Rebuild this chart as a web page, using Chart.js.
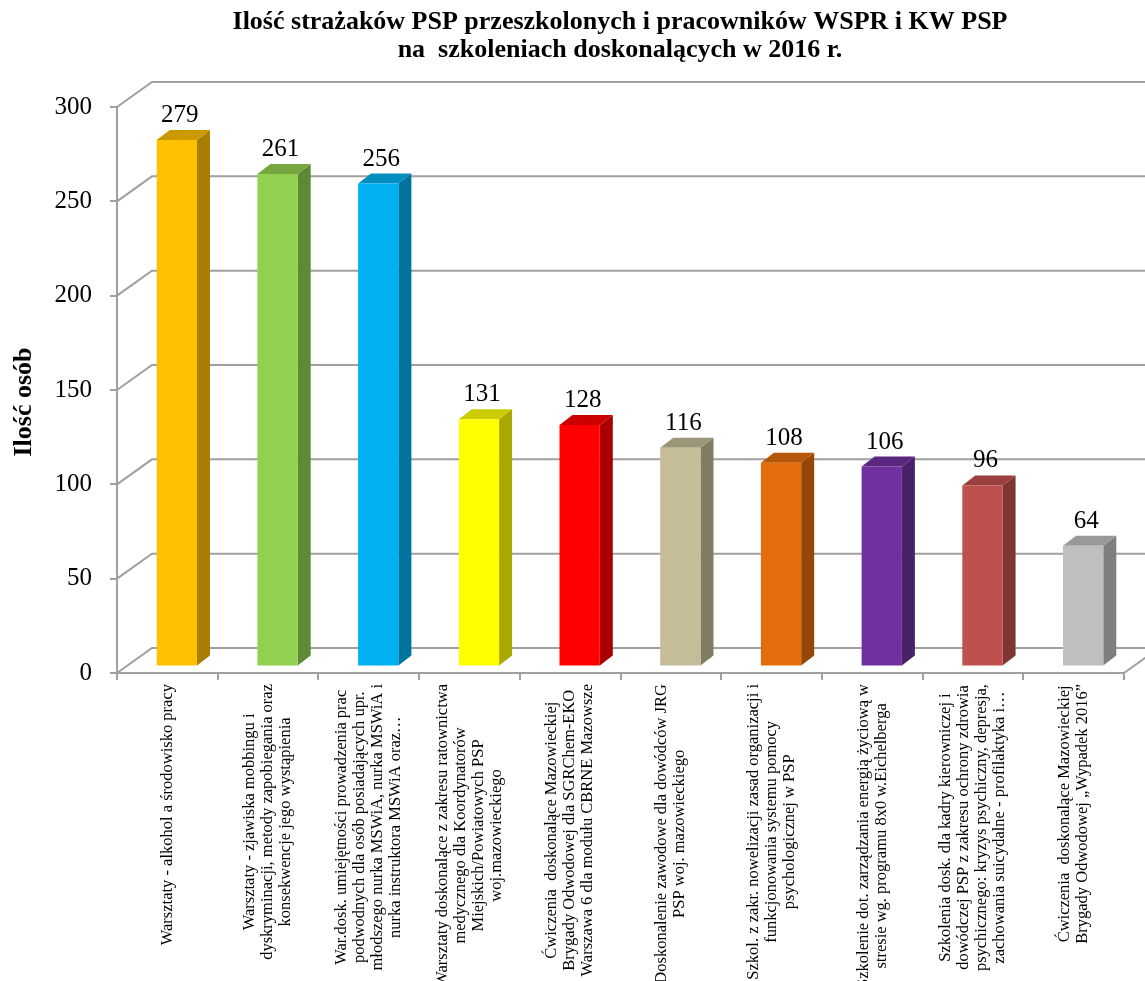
<!DOCTYPE html>
<html lang="pl">
<head>
<meta charset="utf-8">
<title>Ilość strażaków PSP</title>
<script src="https://cdn.jsdelivr.net/npm/chart.js@4.4.1/dist/chart.umd.min.js"></script>
<style>
  html, body { margin: 0; padding: 0; background: #fff; }
  canvas { display: block; }
</style>
</head>
<body>
<canvas id="wykres" width="1145" height="981"></canvas>
<script>
// Dane
const tytul = ['Ilość strażaków PSP przeszkolonych i pracowników WSPR i KW PSP', 'na  szkoleniach doskonalących w 2016 r.'];
const tytulOsiY = 'Ilość osób';

const szkolenia = [
    ['Warsztaty - alkohol a środowisko pracy'],
    ['Warsztaty - zjawiska mobbingu i', 'dyskryminacji, metody zapobiegania oraz', 'konsekwencje jego wystąpienia'],
    ['War.dosk. umiejętności prowadzenia prac', 'podwodnych dla osób posiadających upr.', 'młodszego nurka MSWiA, nurka MSWiA i', 'nurka instruktora MSWiA oraz…'],
    ['Warsztaty doskonalące z zakresu ratownictwa', 'medycznego dla Koordynatorów', 'Miejskich/Powiatowych PSP', 'woj.mazowieckiego'],
    ['Ćwiczenia  doskonalące Mazowieckiej', 'Brygady Odwodowej dla SGRChem-EKO', 'Warszawa 6 dla modułu CBRNE Mazowsze'],
    ['Doskonalenie zawodowe dla dowódców JRG', 'PSP woj. mazowieckiego'],
    ['Szkol. z zakr. nowelizacji zasad organizacji i', 'funkcjonowania systemu pomocy', 'psychologicznej w PSP'],
    ['Szkolenie dot. zarządzania energią życiową w', 'stresie wg. programu 8x0 w.Eichelberga'],
    ['Szkolenia dosk. dla kadry kierowniczej i', 'dowódczej PSP z zakresu ochrony zdrowia', 'psychicznego: kryzys psychiczny, depresja,', 'zachowania suicydalne - profilaktyka i…'],
    ['Ćwiczenia  doskonalące Mazowieckiej', 'Brygady Odwodowej „Wypadek 2016”']
];

const liczbaOsob = [279, 261, 256, 131, 128, 116, 108, 106, 96, 64];

const osY = { min: 0, max: 300, krok: 50 };

// Kolory słupków (przód)
const kolory = ['#FFC000', '#92D050', '#00B0F0', '#FFFF00', '#FF0000', '#C4BD97', '#E46C0A', '#7030A0', '#C0504D', '#BFBFBF'];

// Geometria 3D (w pikselach)
const GLEB_X = 35, GLEB_Y = 25;      // głębokość ściany
const PRZOD_X = 9.5, PRZOD_Y = 6.5;  // przesunięcie przedniej ściany słupka
const BOK_X = 13, BOK_Y = 10;        // głębokość słupka
const SZARY = '#a0a0a0';
const SERIF = '"Liberation Serif", "Times New Roman", serif';

function przyciemnij(hex, f) {
    const n = parseInt(hex.slice(1), 16);
    const r = Math.round(((n >> 16) & 255) * f);
    const g = Math.round(((n >> 8) & 255) * f);
    const b = Math.round((n & 255) * f);
    return `rgb(${r},${g},${b})`;
}

function linia(ctx, punkty) {
    ctx.beginPath();
    ctx.moveTo(punkty[0][0], punkty[0][1]);
    for (let i = 1; i < punkty.length; i++) ctx.lineTo(punkty[i][0], punkty[i][1]);
    ctx.stroke();
}

function wielokat(ctx, punkty, kolor) {
    ctx.beginPath();
    ctx.moveTo(punkty[0][0], punkty[0][1]);
    for (let i = 1; i < punkty.length; i++) ctx.lineTo(punkty[i][0], punkty[i][1]);
    ctx.closePath();
    ctx.fillStyle = kolor;
    ctx.fill();
}

const bryla3d = {
    id: 'bryla3d',
    beforeDatasetsDraw(chart) {
        const ctx = chart.ctx;
        const { left, right, bottom } = chart.chartArea;
        const sy = chart.scales.y;
        ctx.save();
        ctx.strokeStyle = SZARY;
        ctx.lineWidth = 2;
        // tylna ściana - linie siatki
        sy.ticks.forEach(t => {
            const py = sy.getPixelForValue(t.value);
            linia(ctx, [[left, py], [left + GLEB_X, py - GLEB_Y], [right + GLEB_X, py - GLEB_Y]]);
        });
        // prawa krawędź podłogi
        linia(ctx, [[right, bottom], [right + GLEB_X, bottom - GLEB_Y]]);
        ctx.restore();
    },
    afterDatasetsDraw(chart) {
        const ctx = chart.ctx;
        const meta = chart.getDatasetMeta(0);
        ctx.save();
        meta.data.forEach((bar, i) => {
            const p = bar.getProps(['x', 'y', 'base', 'width'], true);
            const l = p.x - p.width / 2 + PRZOD_X;
            const r = p.x + p.width / 2 + PRZOD_X;
            const t = p.y - PRZOD_Y;
            const b = p.base - PRZOD_Y;
            const k = kolory[i];
            // bok
            wielokat(ctx, [[r, b], [r, t], [r + BOK_X, t - BOK_Y], [r + BOK_X, b - BOK_Y]], przyciemnij(k, 0.66));
            // góra
            wielokat(ctx, [[l, t], [r, t], [r + BOK_X, t - BOK_Y], [l + BOK_X, t - BOK_Y]], przyciemnij(k, 0.8));
            // przód
            wielokat(ctx, [[l, b], [l, t], [r, t], [r, b]], k);

            // etykieta wartości
            ctx.fillStyle = '#000';
            ctx.font = `25px ${SERIF}`;
            ctx.textAlign = 'center';
            ctx.textBaseline = 'alphabetic';
            ctx.fillText(String(liczbaOsob[i]), (l + r) / 2 + 3, t - BOK_Y - 8);
        });
        ctx.restore();
    },
    afterDraw(chart) {
        const ctx = chart.ctx;
        const sx = chart.scales.x;
        ctx.save();
        ctx.fillStyle = '#000';

        // tytuł
        ctx.font = `bold 26px ${SERIF}`;
        ctx.textAlign = 'center';
        ctx.textBaseline = 'middle';
        ctx.fillText(tytul[0], 620, 22);
        ctx.fillText(tytul[1], 620, 50);

        // tytuł osi Y
        ctx.save();
        ctx.translate(24, 402);
        ctx.rotate(-Math.PI / 2);
        ctx.font = `bold 26px ${SERIF}`;
        ctx.fillText(tytulOsiY, 0, 0);
        ctx.restore();

        // etykiety kategorii (pionowo, linie wyśrodkowane)
        ctx.font = `16.5px ${SERIF}`;
        const wys = 18;
        szkolenia.forEach((linie, i) => {
            const cx = sx.getPixelForValue(i);
            const maxW = Math.max(...linie.map(s => ctx.measureText(s).width));
            const srodek = chart.chartArea.bottom + 11 + maxW / 2;
            linie.forEach((s, j) => {
                const lx = cx + (j - (linie.length - 1) / 2) * wys;
                ctx.save();
                ctx.translate(lx, srodek);
                ctx.rotate(-Math.PI / 2);
                ctx.fillText(s, 0, 0);
                ctx.restore();
            });
        });
        ctx.restore();
    }
};

new Chart(document.getElementById('wykres'), {
    type: 'bar',
    data: {
        labels: szkolenia,
        datasets: [{
            data: liczbaOsob,
            backgroundColor: 'rgba(0,0,0,0)',
            borderWidth: 0,
            barPercentage: 0.4,
            categoryPercentage: 1.0
        }]
    },
    options: {
        responsive: false,
        animation: false,
        events: [],
        layout: { padding: { top: 107, right: 21, bottom: 0, left: 0 } },
        plugins: {
            legend: { display: false },
            title: { display: false },
            tooltip: { enabled: false }
        },
        scales: {
            x: {
                afterFit(scale) { scale.height = 308; },
                ticks: { display: false },
                grid: { offset: true, drawOnChartArea: false, tickLength: 7, color: SZARY, lineWidth: 2 },
                border: { color: SZARY, width: 2 }
            },
            y: {
                min: osY.min,
                max: osY.max,
                afterFit(scale) { scale.width = 117; },
                ticks: {
                    stepSize: osY.krok,
                    color: '#000',
                    padding: 18,
                    font: { family: SERIF, size: 25 }
                },
                grid: { drawOnChartArea: false, tickLength: 7, color: SZARY, lineWidth: 2 },
                border: { color: SZARY, width: 2 }
            }
        }
    },
    plugins: [bryla3d]
});
</script>
</body>
</html>
